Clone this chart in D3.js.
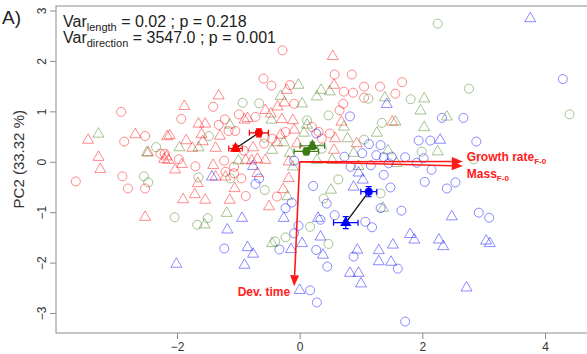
<!DOCTYPE html>
<html>
<head>
<meta charset="utf-8">
<script src="https://cdn.jsdelivr.net/npm/d3@7"></script>
<style>
body { margin: 0; background: #fff; }
svg { display: block; font-family: "Liberation Sans", Arial, sans-serif; }
</style>
</head>
<body>
<svg id="chart" width="587" height="354"></svg>
<script>
// individual scores (PC1, PC2) per group and shape
var redCircles = [[-2.91,0.99],[-2.86,0.40],[-2.52,0.51],[-2.27,0.16],[-2.20,0.16],[-3.65,-0.39],[-2.89,-0.29],[-2.80,-0.53],[-2.52,-0.53],
  [-0.59,1.65],[-0.46,1.51],[-1.41,1.09],[-1.93,0.85],[-1.22,0.84],[-0.99,0.94],[-0.72,0.89],[-1.32,0.73],[-1.16,0.61],[-1.05,0.61],[-0.58,0.36],
  [-0.45,0.46],[-0.91,0.22],[-1.97,0.05],[-1.23,0.02],[-1.70,-0.09],[-1.07,-0.10],[-1.21,-0.20],[-1.07,-0.23],[-0.95,-0.33],[-0.88,-0.68],
  [-0.28,2.21],[0.57,1.73],[0.85,1.73],[0.72,1.39],[0.87,1.37],[1.05,1.49],[1.05,1.27],[1.31,1.49],[-0.09,1.15],[0.71,1.15],[0.65,1.02],
  [0.20,0.69],[0.31,0.59],[-0.23,0.59],[0.49,0.56],[0.36,0.46],[-0.16,1.52],[-0.37,-0.69],[1.67,1.58],[1.56,1.35]];
var redTriangles = [[-3.45,0.43],[-2.68,0.54],[-2.16,0.50],[-2.47,0.18],[-2.21,0.05],[-3.28,0.09],[-3.25,-0.15],[-2.52,-1.10],
  [-1.32,1.31],[-1.88,1.10],[-1.65,0.75],[-1.54,0.75],[-0.85,0.86],[-0.90,0.83],[-0.56,1.02],[-0.47,0.95],[-1.60,0.54],[-1.30,0.51],
  [-2.12,0.52],[-1.85,0.42],[-1.58,0.40],[-1.75,0.27],[-1.37,0.27],[-0.76,0.28],[-2.17,0.10],[-2.14,0.03],[-0.88,0.03],[-0.78,0.02],
  [-0.69,0.05],[-0.56,0.03],[-2.03,-0.16],[-1.92,-0.05],[-1.41,-0.07],[-1.21,-0.30],[-1.37,-0.30],[-1.66,-0.43],[-0.69,-0.23],[-1.06,-0.53],
  [-0.50,-0.89],[-1.90,-0.75],[-1.71,-0.65],[-1.54,-0.76],[-1.14,-0.76],
  [0.54,2.09],[0.56,1.52],[-0.21,1.42],[-0.25,1.17],[-0.36,1.09],[-0.29,0.84],[-0.11,0.82],[0.68,0.79],[-0.09,0.63],[0.58,0.46],
  [-0.37,0.38],[-0.04,0.36],[0.56,0.23],[0.93,0.36],[-0.18,0.00],[-0.18,-0.33],[-0.27,-0.55],[-0.31,0.53],[1.51,0.79]];
var greenCircles = [[-2.34,0.29],[-2.54,-0.29],[-2.47,-0.41],[-0.93,1.17],[-0.66,1.16],[-1.48,0.51],[-0.57,0.48],[-1.13,-0.33],[-1.65,-0.31],
  [-0.57,-0.56],[-2.04,-1.10],[-1.67,-1.25],[-1.50,-1.12],
  [1.12,1.25],[0.47,0.92],[0.12,0.82],[1.34,0.77],[1.05,0.44],[0.36,0.26],[0.63,-0.35],[1.32,-0.63],[0.39,-0.73],[0.17,-1.29],[0.47,-1.63],
  [-0.23,-1.50],[-0.40,-1.58],[2.25,2.74],[1.81,1.24],[2.76,1.45],[1.99,0.20],[2.84,0.05],[4.40,0.94]];
var greenTriangles = [[-3.28,0.55],[-2.49,0.18],[-0.46,0.83],[-1.14,0.73],[-1.96,0.28],[-1.65,0.28],[-0.45,0.23],[-1.00,0.02],[-1.19,-1.02],
  [-1.55,-1.25],[-0.45,-1.62],
  [-0.02,1.52],[-0.31,1.30],[0.28,1.29],[0.35,1.42],[0.49,1.39],[0.04,1.15],[0.72,0.69],[0.12,0.73],[0.07,0.57],[0.78,0.46],[1.26,0.57],
  [-0.26,0.38],[0.88,0.17],[-0.16,0.17],[0.28,0.03],[0.53,0.03],[-0.11,-0.10],[0.96,-0.09],[0.51,-0.56],[-0.20,-0.69],
  [1.39,1.27],[2.03,1.25],[1.97,1.01],[2.40,0.89],[1.56,0.79],[2.03,0.68],[2.25,0.20],[1.44,0.22],[1.58,-0.03],[1.36,-0.92]];
var blueCircles = [[-0.66,-0.33],[-0.72,-0.44],[-1.23,-1.72],
  [0.82,0.90],[0.27,0.56],[1.13,0.35],[1.32,0.33],[0.73,0.10],[1.02,0.17],[1.25,0.13],[-0.09,0.02],[0.83,-0.10],[1.16,-0.07],[0.22,-0.48],
  [-0.13,-0.81],[0.44,-0.83],[-0.23,-0.92],[1.32,-0.92],[0.57,-1.06],[-0.02,-1.27],[0.34,-1.15],[1.07,-1.19],[1.18,-1.30],[-0.09,-1.42],
  [-0.33,-1.74],[0.27,-1.75],[0.88,-1.88],[0.45,-2.08],[0.17,-2.55],[0.28,-2.79],
  [2.32,0.87],[2.67,0.87],[1.94,0.42],[2.13,0.42],[2.88,0.40],[1.72,0.09],[2.02,0.07],[1.50,0.10],[1.37,0.09],[1.91,-0.02],[1.45,-0.03],
  [2.15,-0.16],[1.37,-0.26],[2.04,-0.40],[2.54,-0.41],[2.40,-0.53],[1.48,-0.51],[1.66,-0.97],[2.92,-1.01],[3.09,-1.11],[1.60,-2.12],
  [1.72,-3.17],[4.29,1.64]];
var blueTriangles = [[-0.76,-0.09],[-1.43,-0.30],[-0.94,-1.12],[-1.18,-1.35],[-0.85,-1.70],[-0.76,-1.83],[-2.01,-2.03],[-0.90,-2.05],
  [0.96,-0.22],[1.03,-0.36],[0.88,-0.50],[0.30,-1.12],[-0.26,-1.12],[0.34,-1.49],[0.04,-1.62],[-0.14,-1.74],[0.38,-1.85],[0.94,-1.75],
  [1.29,-1.76],[1.29,-1.98],[0.82,-2.21],[0.96,-2.21],[1.00,-2.42],[0.00,-2.55],
  [1.42,1.14],[2.29,0.43],[2.48,-1.09],[1.80,-1.44],[1.87,-1.55],[1.52,-1.65],[2.27,-1.55],[2.34,-1.68],[3.04,-1.57],[1.49,-1.99],
  [2.72,-2.50],[3.76,2.84],[3.10,-1.62]];

// group means with standard errors (x, y)
var meanCircle   = [[-0.665,0.574],[0.109,0.204],[1.127,-0.594]];
var meanTriangle = [[-1.046,0.263],[0.207,0.317],[0.752,-1.208]];
var seCircle     = [[0.155,0.08],[0.20,0.07],[0.13,0.10]];
var seTriangle   = [[0.11,0.06],[0.20,0.07],[0.20,0.12]];

// trait vectors
var vecNames = ['Growth rate', 'Mass', 'Dev. time'];
var vecSubs  = ['F-0', 'F-0', ''];
var vecX = [2.66, 2.66, -0.09];
var vecY = [0.005, -0.085, -2.47];

var xTicks = [-2, 0, 2, 4];
var yTicks = [-3, -2, -1, 0, 1, 2, 3];

var lightCol = ['#ff0000', '#3a7d10', '#0000ff'];
var darkCol  = ['#ff0000', '#3b7a12', '#0000ff'];

var svg = d3.select('#chart');
var x = d3.scaleLinear().domain([-2, 4]).range([177, 545]);
var y = d3.scaleLinear().domain([-3, 3]).range([313, 10.5]);

var plotLeft = 56, plotTop = 6, plotBottom = 333;

svg.append('defs').append('clipPath').attr('id', 'plotclip')
  .append('rect').attr('x', plotLeft).attr('y', plotTop).attr('width', 600).attr('height', plotBottom - plotTop);

var plot = svg.append('g').attr('clip-path', 'url(#plotclip)');

var circ = d3.symbol().type(d3.symbolCircle).size(64);
var tri  = d3.symbol().type(d3.symbolTriangle).size(52);

function drawPoints(data, sym, col) {
  plot.append('g').selectAll('path')
    .data(data)
    .enter()
    .append('path')
      .attr('d', sym)
      .attr('transform', function (d) { return 'translate(' + x(d[0]) + ',' + y(d[1]) + ')'; })
      .attr('fill', 'none')
      .attr('stroke', col)
      .attr('stroke-opacity', 0.45)
      .attr('stroke-width', 1);
}

drawPoints(redCircles, circ, lightCol[0]);
drawPoints(redTriangles, tri, lightCol[0]);
drawPoints(greenCircles, circ, lightCol[1]);
drawPoints(greenTriangles, tri, lightCol[1]);
drawPoints(blueCircles, circ, lightCol[2]);
drawPoints(blueTriangles, tri, lightCol[2]);

// arrows
var arrows = plot.append('g');
vecNames.forEach(function (name, i) {
  var x0 = x(0), y0 = y(0), x1 = x(vecX[i]), y1 = y(vecY[i]);
  var ang = Math.atan2(y1 - y0, x1 - x0);
  var len = 11, hw = 4.5;
  var bx = x1 - len * Math.cos(ang), by = y1 - len * Math.sin(ang);
  arrows.append('line')
    .attr('x1', x0).attr('y1', y0).attr('x2', bx).attr('y2', by)
    .attr('stroke', '#ff1a1a').attr('stroke-width', 1.6);
  arrows.append('path')
    .attr('d', 'M' + x1 + ',' + y1 +
               'L' + (bx + hw * Math.sin(ang)) + ',' + (by - hw * Math.cos(ang)) +
               'L' + (bx - hw * Math.sin(ang)) + ',' + (by + hw * Math.cos(ang)) + 'Z')
    .attr('fill', '#ff1a1a');
});

// vector labels
var labPos = [[4, 0], [4, 12], [-4, 10]];
vecNames.forEach(function (name, i) {
  var t = svg.append('text')
    .attr('x', x(vecX[i]) + labPos[i][0])
    .attr('y', y(vecY[i]) + labPos[i][1])
    .attr('fill', '#ff2020')
    .attr('font-weight', 'bold')
    .attr('font-size', 12)
    .attr('text-anchor', i === 2 ? 'end' : 'start');
  t.append('tspan').text(name);
  if (vecSubs[i]) {
    t.append('tspan').attr('font-size', 8).attr('dy', 3).text(vecSubs[i]);
  }
});

// group means: connecting lines, error bars, markers
var means = svg.append('g');
meanCircle.forEach(function (mc, i) {
  var mt = meanTriangle[i];
  means.append('line')
    .attr('x1', x(mc[0])).attr('y1', y(mc[1]))
    .attr('x2', x(mt[0])).attr('y2', y(mt[1]))
    .attr('stroke', '#111').attr('stroke-width', 1.3);
});

function errBars(m, se, col) {
  var cx = x(m[0]), cy = y(m[1]);
  var xl = x(m[0] - se[0]), xr = x(m[0] + se[0]);
  var yt = y(m[1] + se[1]), yb = y(m[1] - se[1]);
  var cap = 3;
  var p = 'M' + xl + ',' + cy + 'H' + xr +
          'M' + xl + ',' + (cy - cap) + 'V' + (cy + cap) +
          'M' + xr + ',' + (cy - cap) + 'V' + (cy + cap) +
          'M' + cx + ',' + yt + 'V' + yb +
          'M' + (cx - cap) + ',' + yt + 'H' + (cx + cap) +
          'M' + (cx - cap) + ',' + yb + 'H' + (cx + cap);
  means.append('path').attr('d', p).attr('stroke', col).attr('stroke-width', 1.2).attr('fill', 'none');
}

meanCircle.forEach(function (m, i) { errBars(m, seCircle[i], darkCol[i]); });
meanTriangle.forEach(function (m, i) { errBars(m, seTriangle[i], darkCol[i]); });

means.selectAll('.mc').data(meanCircle).enter().append('path')
  .attr('d', d3.symbol().type(d3.symbolCircle).size(50))
  .attr('transform', function (d) { return 'translate(' + x(d[0]) + ',' + y(d[1]) + ')'; })
  .attr('fill', function (d, i) { return darkCol[i]; });
means.selectAll('.mt').data(meanTriangle).enter().append('path')
  .attr('d', d3.symbol().type(d3.symbolTriangle).size(55))
  .attr('transform', function (d) { return 'translate(' + x(d[0]) + ',' + y(d[1]) + ')'; })
  .attr('fill', function (d, i) { return darkCol[i]; });

// frame
svg.append('rect')
  .attr('x', plotLeft).attr('y', plotTop).attr('width', 620).attr('height', plotBottom - plotTop)
  .attr('fill', 'none').attr('stroke', '#8c8c8c').attr('stroke-width', 1);

// axes
var fmt = d3.format('d');
var xAxis = svg.append('g').attr('transform', 'translate(0,' + plotBottom + ')')
  .call(d3.axisBottom(x).tickValues(xTicks).tickFormat(fmt).tickSize(6).tickSizeOuter(0));
xAxis.select('.domain').remove();
xAxis.selectAll('line').attr('stroke', '#8c8c8c');
xAxis.selectAll('text').attr('font-size', 12).attr('fill', '#333').attr('dy', '0.71em').attr('y', 9)
  .attr('font-family', '"Liberation Sans", Arial, sans-serif');

var yAxis = svg.append('g').attr('transform', 'translate(' + plotLeft + ',0)')
  .call(d3.axisLeft(y).tickValues(yTicks).tickFormat(fmt).tickSize(6).tickSizeOuter(0));
yAxis.select('.domain').remove();
yAxis.selectAll('line').attr('stroke', '#8c8c8c');
yAxis.selectAll('text')
  .attr('x', null).attr('dy', null)
  .attr('font-size', 12).attr('fill', '#333')
  .attr('font-family', '"Liberation Sans", Arial, sans-serif')
  .attr('text-anchor', 'middle')
  .attr('transform', 'translate(-14,0) rotate(-90)')
  .attr('y', 0).attr('dy', '0.35em');

svg.append('text')
  .attr('transform', 'translate(24,' + y(0.05) + ') rotate(-90)')
  .attr('text-anchor', 'middle').attr('font-size', 15).attr('fill', '#333')
  .text('PC2 (33.32 %)');

svg.append('text').attr('x', 2).attr('y', 24).attr('font-size', 19).attr('fill', '#222').text('A)');

// legend text
var stats = [['length', ' = 0.02 ; p = 0.218'], ['direction', ' = 3547.0 ; p = 0.001']];
stats.forEach(function (s, i) {
  var t = svg.append('text').attr('x', 63).attr('y', 27 + i * 16).attr('font-size', 16).attr('fill', '#222');
  t.append('tspan').text('Var');
  t.append('tspan').attr('font-size', 11).attr('dy', 4).text(s[0]);
  t.append('tspan').attr('dy', -4).text(s[1]);
});
</script>
</body>
</html>
